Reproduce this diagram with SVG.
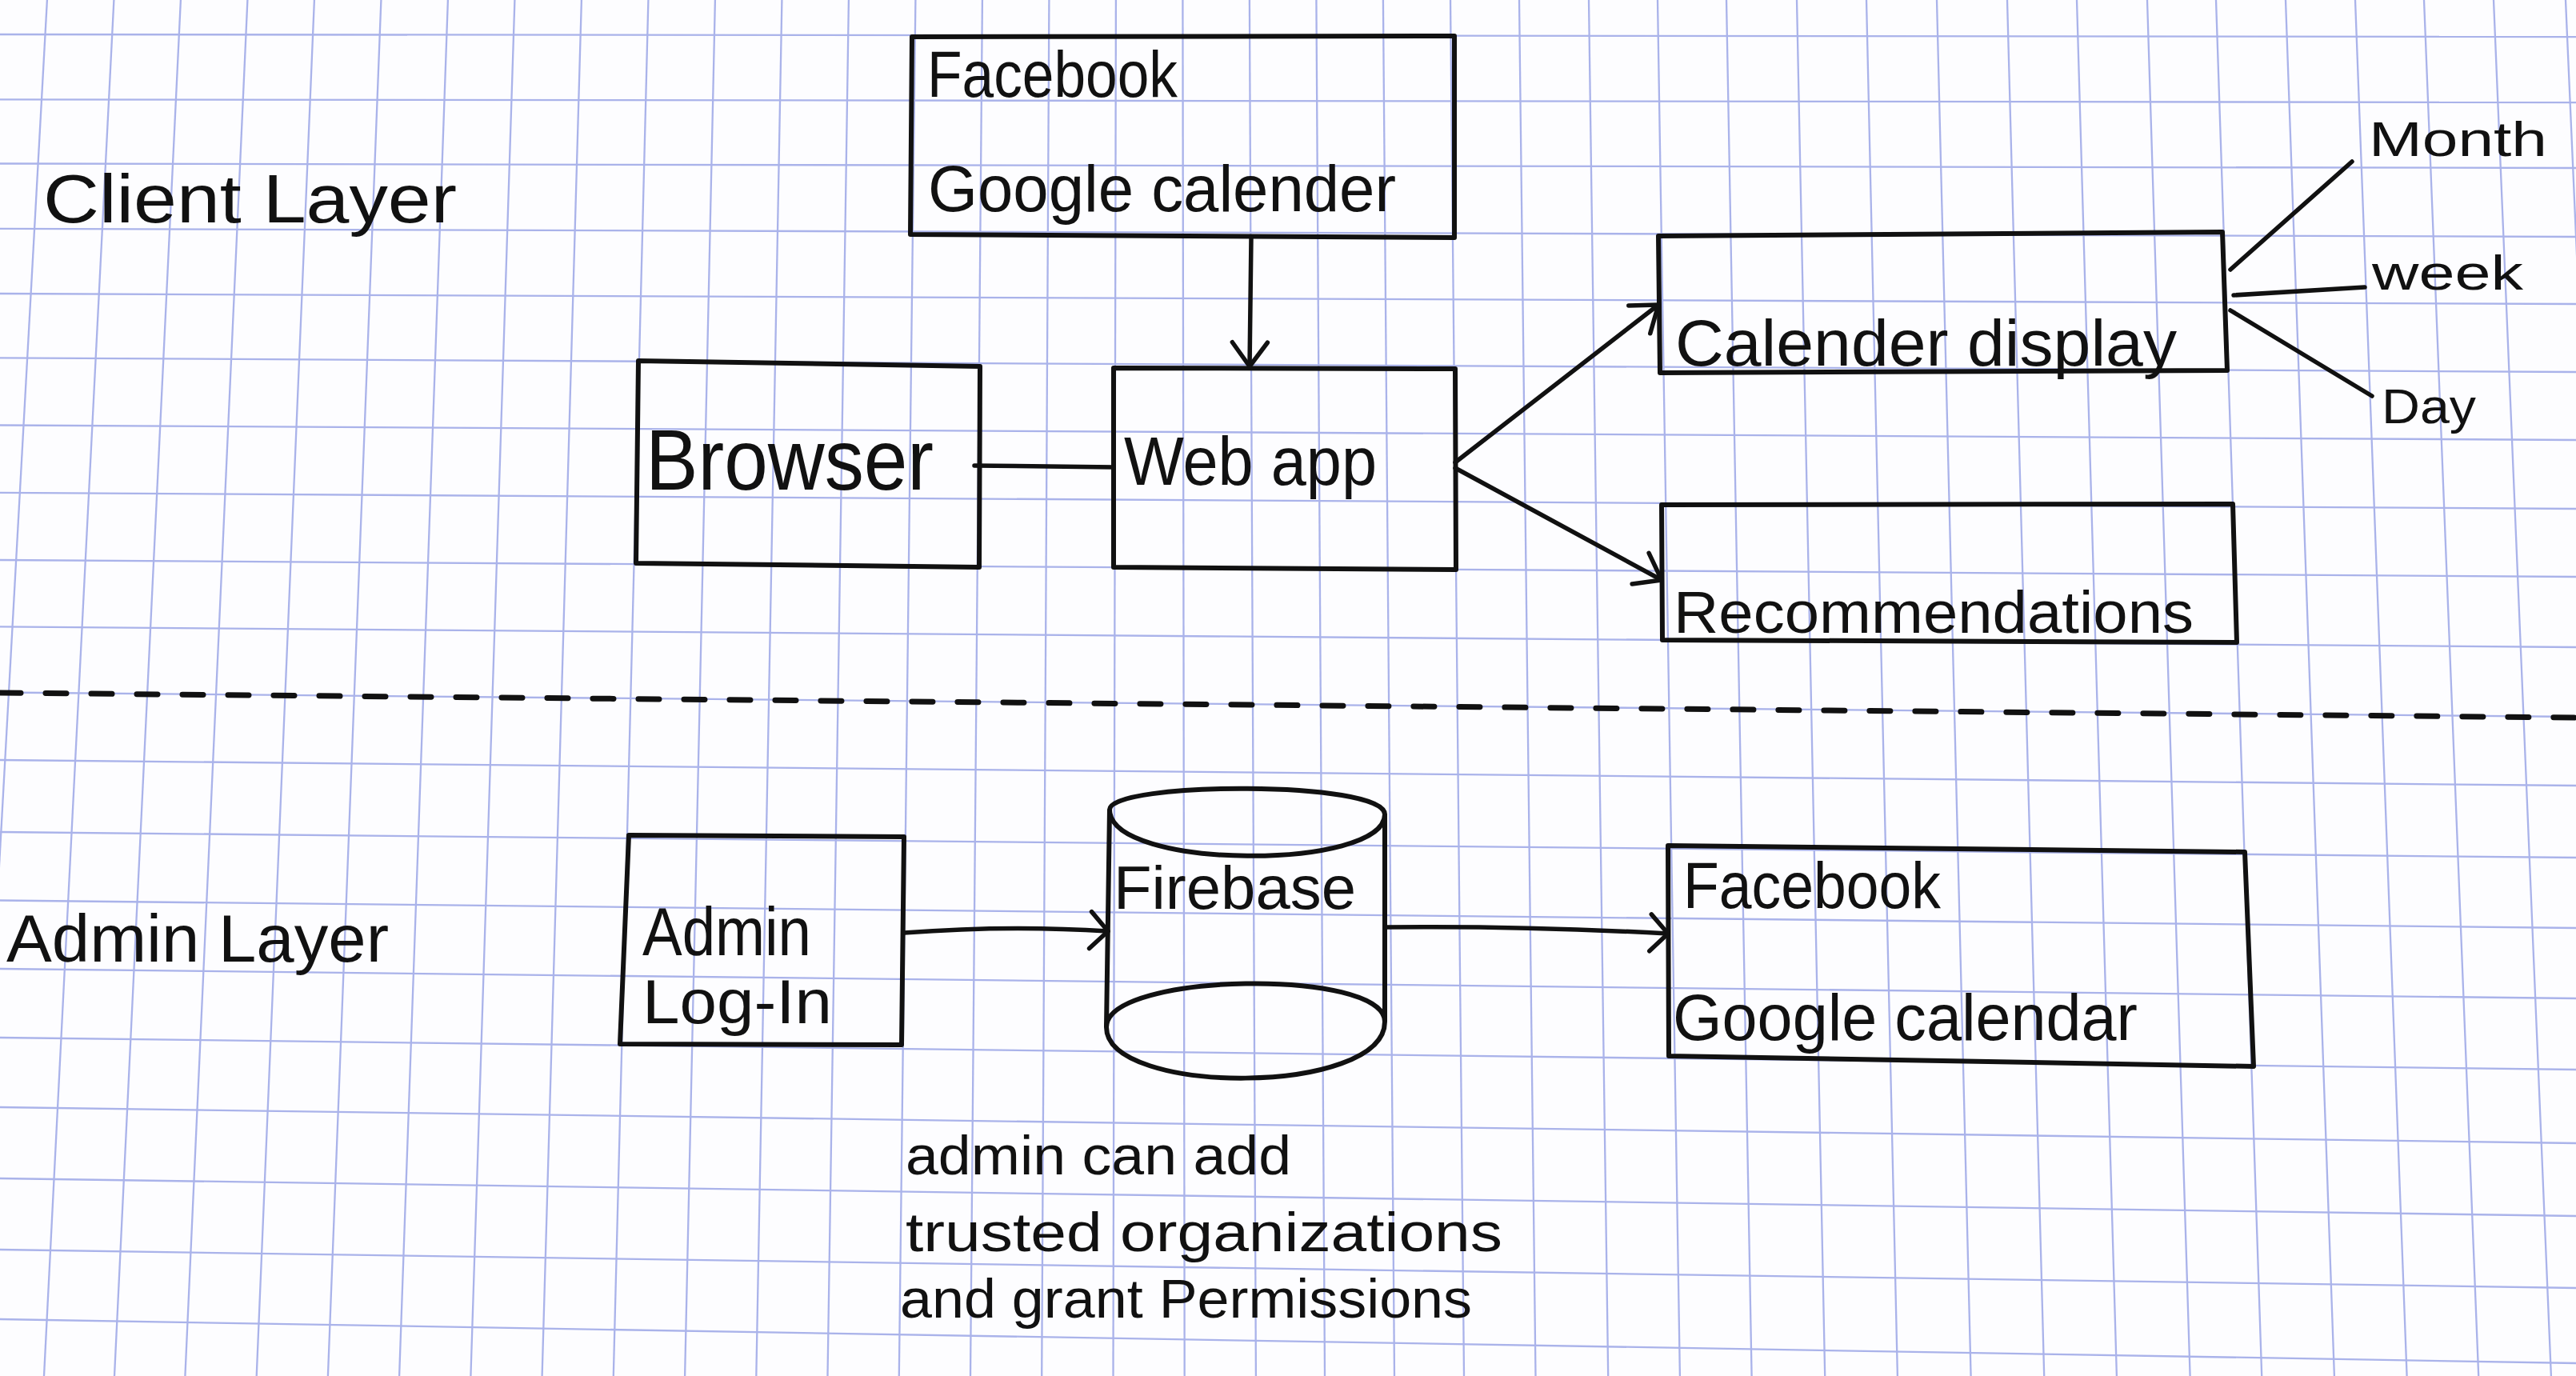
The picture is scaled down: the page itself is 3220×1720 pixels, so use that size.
<svg xmlns="http://www.w3.org/2000/svg" width="3220" height="1720" viewBox="0 0 3220 1720">
<style>
.grid line{stroke:#aab3ea;stroke-width:2.3}
.box{fill:none;stroke:#111;stroke-width:6;stroke-linejoin:round}
.t{font-family:"Liberation Sans",Arial,sans-serif;fill:#111}
.conn{fill:none;stroke:#111;stroke-width:5.5;stroke-linecap:round}
</style>
<defs>
<marker id="arrow" viewBox="-45 -30 50 60" markerWidth="50" markerHeight="60" refX="0" refY="0" orient="auto" markerUnits="userSpaceOnUse" overflow="visible">
<path d="M-30,-22 L0,0 L-30,22" fill="none" stroke="#111" stroke-width="5.5" stroke-linecap="round" stroke-linejoin="round"/>
</marker>
<marker id="arrow-wide" viewBox="-45 -30 50 60" markerWidth="50" markerHeight="60" refX="0" refY="0" orient="auto" markerUnits="userSpaceOnUse" overflow="visible">
<path d="M-22,-23 L0,0 L-22,23" fill="none" stroke="#111" stroke-width="5.5" stroke-linecap="round" stroke-linejoin="round"/>
</marker>
</defs>
<rect x="0" y="0" width="3220" height="1720" fill="#fdfdff"/>
<g id="grid" class="grid">
<line x1="58.9" y1="0" x2="-36.3" y2="1720"/>
<line x1="142.4" y1="0" x2="55" y2="1720"/>
<line x1="225.9" y1="0" x2="143" y2="1720"/>
<line x1="309.4" y1="0" x2="231.4" y2="1720"/>
<line x1="392.9" y1="0" x2="320.7" y2="1720"/>
<line x1="476.4" y1="0" x2="409.9" y2="1720"/>
<line x1="559.9" y1="0" x2="499.1" y2="1720"/>
<line x1="643.4" y1="0" x2="588.4" y2="1720"/>
<line x1="726.9" y1="0" x2="677.6" y2="1720"/>
<line x1="810.4" y1="0" x2="766.8" y2="1720"/>
<line x1="893.9" y1="0" x2="856.1" y2="1720"/>
<line x1="977.4" y1="0" x2="945.3" y2="1720"/>
<line x1="1060.9" y1="0" x2="1034.5" y2="1720"/>
<line x1="1144.4" y1="0" x2="1123.8" y2="1720"/>
<line x1="1227.9" y1="0" x2="1213" y2="1720"/>
<line x1="1311.4" y1="0" x2="1302.2" y2="1720"/>
<line x1="1394.9" y1="0" x2="1391.5" y2="1720"/>
<line x1="1478.4" y1="0" x2="1480.7" y2="1720"/>
<line x1="1561.9" y1="0" x2="1569.9" y2="1720"/>
<line x1="1645.4" y1="0" x2="1656" y2="1720"/>
<line x1="1728.9" y1="0" x2="1743" y2="1720"/>
<line x1="1813" y1="0" x2="1830" y2="1720"/>
<line x1="1899" y1="0" x2="1919.5" y2="1720"/>
<line x1="1986" y1="0" x2="2010.2" y2="1720"/>
<line x1="2072" y1="0" x2="2099.9" y2="1720"/>
<line x1="2158" y1="0" x2="2189.6" y2="1720"/>
<line x1="2246" y1="0" x2="2281.2" y2="1720"/>
<line x1="2333" y1="0" x2="2371.9" y2="1720"/>
<line x1="2421" y1="0" x2="2463.6" y2="1720"/>
<line x1="2509" y1="0" x2="2555.2" y2="1720"/>
<line x1="2596" y1="0" x2="2645.9" y2="1720"/>
<line x1="2684" y1="0" x2="2737.6" y2="1720"/>
<line x1="2770" y1="0" x2="2827.2" y2="1720"/>
<line x1="2857" y1="0" x2="2917.9" y2="1720"/>
<line x1="2944" y1="0" x2="3008.6" y2="1720"/>
<line x1="3030" y1="0" x2="3098.2" y2="1720"/>
<line x1="3117" y1="0" x2="3188.9" y2="1720"/>
<line x1="3207" y1="0" x2="3282.6" y2="1720"/>
<line x1="0" y1="43" x2="3220" y2="46"/>
<line x1="0" y1="124.3" x2="3220" y2="128"/>
<line x1="0" y1="204.5" x2="3220" y2="210"/>
<line x1="0" y1="285.8" x2="3220" y2="296"/>
<line x1="0" y1="367" x2="3220" y2="380"/>
<line x1="0" y1="447.3" x2="3220" y2="465"/>
<line x1="0" y1="531.5" x2="3220" y2="550"/>
<line x1="0" y1="615.8" x2="3220" y2="636"/>
<line x1="0" y1="700" x2="3220" y2="721"/>
<line x1="0" y1="783.3" x2="3220" y2="809"/>
<line x1="0" y1="865.5" x2="3220" y2="896"/>
<line x1="0" y1="950" x2="3220" y2="982"/>
<line x1="0" y1="1040" x2="3220" y2="1072"/>
<line x1="0" y1="1125.5" x2="3220" y2="1160"/>
<line x1="0" y1="1211" x2="3220" y2="1248"/>
<line x1="0" y1="1297" x2="3220" y2="1337"/>
<line x1="0" y1="1384" x2="3220" y2="1429"/>
<line x1="0" y1="1473" x2="3220" y2="1520"/>
<line x1="0" y1="1562" x2="3220" y2="1610"/>
<line x1="0" y1="1649" x2="3220" y2="1704"/>
</g>
<g id="layer-divider">
<line x1="0" y1="866" x2="3220" y2="897" stroke="#111" stroke-width="7" stroke-dasharray="26 31" stroke-linecap="round"/>
</g>
<g id="label-client-layer"><text class="t" x="54" y="278" font-size="85" textLength="517" lengthAdjust="spacingAndGlyphs">Client Layer</text></g>
<g id="label-admin-layer"><text class="t" x="8" y="1202" font-size="84" textLength="478" lengthAdjust="spacingAndGlyphs">Admin Layer</text></g>

<g id="node-sources-top">
<path class="box" d="M1140,46 L1818,45 L1818,297 L1138,293 Z"/>
<text class="t" x="1159" y="121" font-size="81" textLength="313" lengthAdjust="spacingAndGlyphs">Facebook</text>
<text class="t" x="1160" y="264" font-size="81" textLength="585" lengthAdjust="spacingAndGlyphs">Google calender</text>
</g>
<g id="node-browser">
<path class="box" d="M798,451 L1225,458 L1224,709 L795,704 Z"/>
<text class="t" x="807" y="612" font-size="108" textLength="360" lengthAdjust="spacingAndGlyphs">Browser</text>
</g>
<g id="node-webapp">
<path class="box" d="M1392,460 L1819,461 L1820,712 L1392,709 Z"/>
<text class="t" x="1405" y="606" font-size="85" textLength="316" lengthAdjust="spacingAndGlyphs">Web app</text>
</g>
<g id="node-calendar-display">
<path class="box" d="M2073,295 L2778,290 L2784,463 L2075,466 Z"/>
<text class="t" x="2094" y="457" font-size="82" textLength="627" lengthAdjust="spacingAndGlyphs">Calender display</text>
</g>
<g id="node-month"><text class="t" x="2961" y="195" font-size="62" textLength="223" lengthAdjust="spacingAndGlyphs">Month</text></g>
<g id="node-week"><text class="t" x="2965" y="362" font-size="62" textLength="189" lengthAdjust="spacingAndGlyphs">week</text></g>
<g id="node-day"><text class="t" x="2977" y="529" font-size="62" textLength="118" lengthAdjust="spacingAndGlyphs">Day</text></g>
<g id="node-recommendations">
<path class="box" d="M2077,631 L2791,630 L2796,803 L2078,800 Z"/>
<text class="t" x="2092" y="791" font-size="75" textLength="650" lengthAdjust="spacingAndGlyphs">Recommendations</text>
</g>
<g id="node-admin-login">
<path class="box" d="M786,1044 L1130,1046 L1127,1306 L775,1305 Z"/>
<text class="t" x="803" y="1194" font-size="85" textLength="211" lengthAdjust="spacingAndGlyphs">Admin</text>
<text class="t" x="803" y="1279" font-size="78" textLength="237" lengthAdjust="spacingAndGlyphs">Log-In</text>
</g>
<g id="node-firebase">
<path class="box" d="M1387,1012 C1387,977 1731,975 1731,1018 C1731,1088 1387,1088 1387,1012 Z"/>
<path class="box" d="M1387,1012 L1383,1284 M1731,1018 L1731,1277"/>
<path class="box" d="M1383,1284 C1383,1215 1731,1210 1731,1277 C1731,1370 1383,1370 1383,1284 Z"/>
<text class="t" x="1392" y="1136" font-size="76" textLength="303" lengthAdjust="spacingAndGlyphs">Firebase</text>
</g>
<g id="node-sources-bottom">
<path class="box" d="M2085,1057 L2806,1065 L2817,1333 L2086,1320 Z"/>
<text class="t" x="2104" y="1135" font-size="81" textLength="322" lengthAdjust="spacingAndGlyphs">Facebook</text>
<text class="t" x="2091" y="1300" font-size="81" textLength="581" lengthAdjust="spacingAndGlyphs">Google calendar</text>
</g>
<g id="note-admin">
<text class="t" x="1132" y="1468" font-size="68" textLength="482" lengthAdjust="spacingAndGlyphs">admin can add</text>
<text class="t" x="1132" y="1564" font-size="68" textLength="746" lengthAdjust="spacingAndGlyphs">trusted organizations</text>
<text class="t" x="1125" y="1647" font-size="68" textLength="715" lengthAdjust="spacingAndGlyphs">and grant Permissions</text>
</g>

<g id="connectors">
<path class="conn" d="M1564,297 L1562,458" marker-end="url(#arrow)"/>
<path class="conn" d="M1218,582 L1392,584"/>
<path class="conn" d="M1819,578 L2073,381" marker-end="url(#arrow)"/>
<path class="conn" d="M1819,585 L2077,725" marker-end="url(#arrow)"/>
<path class="conn" d="M2788,337 L2940,202"/>
<path class="conn" d="M2792,369 L2956,359"/>
<path class="conn" d="M2788,388 L2965,495"/>
<path class="conn" d="M1130,1166 Q1260,1156 1385,1164" marker-end="url(#arrow-wide)"/>
<path class="conn" d="M1733,1159 Q1900,1157 2085,1167" marker-end="url(#arrow-wide)"/>
</g>
</svg>
